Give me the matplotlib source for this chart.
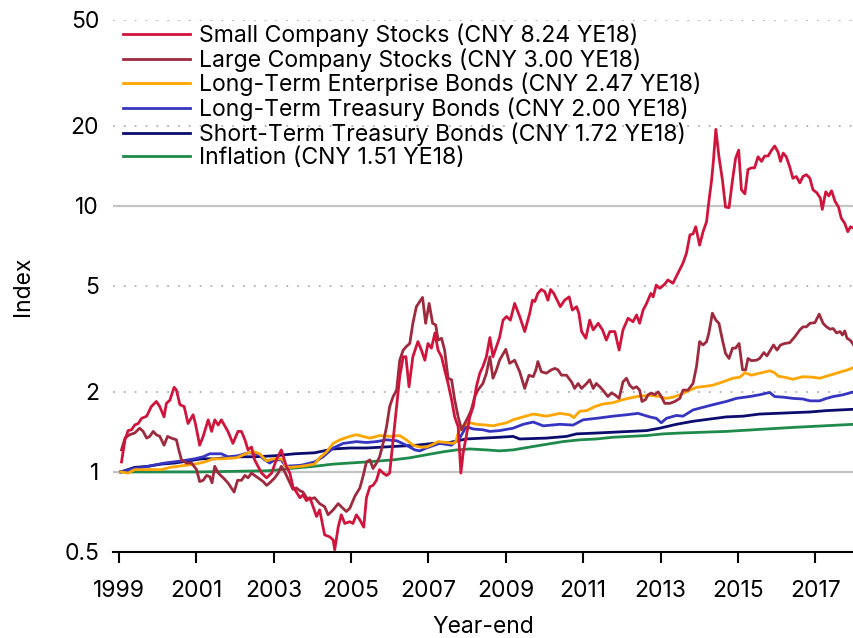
import matplotlib
matplotlib.use('Agg')
import matplotlib.pyplot as plt
from matplotlib.ticker import FixedLocator, NullLocator

plt.rcParams['font.family'] = ['Inter', 'DejaVu Sans']

# values (decimal year, index level)
small_x = [1999.07, 1999.16, 1999.24, 1999.33, 1999.41, 1999.50, 1999.59, 1999.72, 1999.84, 1999.97,
           2000.06, 2000.17, 2000.23, 2000.32, 2000.43, 2000.49, 2000.58, 2000.69, 2000.79, 2000.92,
           2000.98, 2001.09, 2001.18, 2001.31, 2001.40, 2001.48, 2001.57, 2001.65, 2001.82, 2001.95,
           2002.08, 2002.17, 2002.26, 2002.34, 2002.43, 2002.51, 2002.69, 2002.82, 2002.95, 2003.07,
           2003.20, 2003.33, 2003.42, 2003.50, 2003.59, 2003.68, 2003.76, 2003.85, 2003.94, 2004.05,
           2004.11, 2004.19, 2004.32, 2004.45, 2004.54, 2004.58, 2004.67, 2004.75, 2004.84, 2004.97,
           2005.05, 2005.14, 2005.23, 2005.33, 2005.40, 2005.49, 2005.57, 2005.66, 2005.74, 2005.83,
           2005.92, 2006.00, 2006.09, 2006.18, 2006.26, 2006.35, 2006.42, 2006.50, 2006.60, 2006.73,
           2006.82, 2006.91, 2006.99, 2007.08, 2007.17, 2007.25, 2007.34, 2007.42, 2007.51, 2007.60,
           2007.68, 2007.77, 2007.84, 2007.90, 2007.98, 2008.07, 2008.16, 2008.24, 2008.33, 2008.41,
           2008.50, 2008.59, 2008.67, 2008.76, 2008.84, 2008.93, 2009.02, 2009.12, 2009.23, 2009.36,
           2009.49, 2009.62, 2009.69, 2009.75, 2009.83, 2009.92, 2010.01, 2010.09, 2010.16, 2010.24,
           2010.33, 2010.41, 2010.52, 2010.64, 2010.72, 2010.83, 2010.89, 2010.96, 2011.07, 2011.17,
           2011.26, 2011.39, 2011.50, 2011.60, 2011.69, 2011.82, 2011.93, 2012.03, 2012.16, 2012.29,
           2012.38, 2012.46, 2012.55, 2012.64, 2012.75, 2012.81, 2012.89, 2012.98, 2013.11, 2013.19,
           2013.32, 2013.45, 2013.58, 2013.67, 2013.76, 2013.84, 2013.91, 2014.01, 2014.10, 2014.19,
           2014.25, 2014.32, 2014.36, 2014.43, 2014.51, 2014.60, 2014.68, 2014.77, 2014.86, 2014.94,
           2015.02, 2015.09, 2015.18, 2015.26, 2015.35, 2015.43, 2015.52, 2015.61, 2015.69, 2015.78,
           2015.87, 2015.95, 2016.04, 2016.10, 2016.17, 2016.25, 2016.34, 2016.42, 2016.51, 2016.60,
           2016.68, 2016.77, 2016.86, 2016.94, 2017.04, 2017.13, 2017.18, 2017.27, 2017.35, 2017.42,
           2017.51, 2017.60, 2017.67, 2017.76, 2017.84, 2017.91, 2017.99]
small_y = [1.09, 1.32, 1.43, 1.44, 1.50, 1.52, 1.59, 1.62, 1.76, 1.84,
           1.76, 1.61, 1.81, 1.86, 2.08, 2.03, 1.79, 1.76, 1.52, 1.64,
           1.52, 1.26, 1.36, 1.57, 1.42, 1.57, 1.50, 1.57, 1.42, 1.28,
           1.42, 1.42, 1.32, 1.21, 1.24, 1.11, 0.99, 0.95, 0.99, 1.11,
           1.21, 1.05, 0.99, 0.88, 0.84, 0.80, 0.82, 0.78, 0.80, 0.72,
           0.68, 0.72, 0.58, 0.57, 0.555, 0.51, 0.62, 0.69, 0.64, 0.65,
           0.64, 0.69, 0.66, 0.62, 0.80, 0.88, 0.89, 0.93, 1.02, 0.99,
           0.97, 0.99, 1.32, 1.76, 2.28, 2.71, 2.71, 2.09, 2.71, 3.09,
           2.87, 2.63, 3.04, 2.92, 3.33, 2.87, 2.71, 2.42, 2.15, 1.87,
           1.61, 1.48, 0.99, 1.18, 1.36, 1.61, 1.76, 2.09, 2.35, 2.49,
           2.71, 3.2, 2.71, 2.96, 3.2, 3.72, 3.84, 3.72, 4.30, 3.84,
           3.37, 3.95, 4.42, 4.37, 4.69, 4.85, 4.76, 4.42, 4.85, 4.69,
           4.42, 4.18, 4.42, 4.55, 4.06, 4.18, 3.95, 3.37, 3.18, 3.72,
           3.42, 3.62, 3.42, 3.13, 3.37, 3.37, 2.87, 3.42, 3.78, 3.67,
           3.89, 3.62, 4.06, 4.30, 4.69, 4.55, 5.04, 4.90, 5.08, 5.27,
           5.12, 5.58, 6.09, 6.64, 7.78, 7.85, 8.35, 7.12, 8.0, 8.73,
           10.4, 12.5, 14.4, 19.4, 15.3, 12.5, 9.9, 9.85, 12.5, 15.1,
           16.2, 11.5, 11.1, 13.7, 13.9, 13.9, 15.3, 14.7, 15.4, 15.4,
           16.2, 16.8, 15.9, 14.7, 15.8, 15.3, 14.0, 12.7, 12.9, 12.2,
           12.9, 13.1, 12.7, 11.5, 11.2, 10.7, 9.7, 11.3, 10.9, 11.4,
           10.4, 9.9, 9.0, 8.6, 8.0, 8.35, 8.24]

large_x = [1999.07, 1999.16, 1999.28, 1999.41, 1999.54, 1999.63, 1999.72, 1999.80, 1999.89, 1999.97,
           2000.06, 2000.17, 2000.26, 2000.36, 2000.49, 2000.55, 2000.62, 2000.75, 2000.88, 2001.01,
           2001.09, 2001.18, 2001.27, 2001.35, 2001.41, 2001.48, 2001.57, 2001.70, 2001.82, 2001.98,
           2002.07, 2002.17, 2002.26, 2002.34, 2002.43, 2002.51, 2002.60, 2002.73, 2002.82, 2002.90,
           2003.03, 2003.12, 2003.20, 2003.29, 2003.42, 2003.50, 2003.59, 2003.68, 2003.76, 2003.85,
           2003.94, 2004.06, 2004.19, 2004.32, 2004.41, 2004.54, 2004.67, 2004.75, 2004.88, 2004.97,
           2005.10, 2005.23, 2005.31, 2005.40, 2005.49, 2005.57, 2005.66, 2005.74, 2005.83, 2005.92,
           2006.00, 2006.09, 2006.18, 2006.26, 2006.35, 2006.43, 2006.52, 2006.60, 2006.69, 2006.78,
           2006.85, 2006.93, 2007.02, 2007.11, 2007.19, 2007.25, 2007.34, 2007.42, 2007.51, 2007.60,
           2007.68, 2007.77, 2007.86, 2007.94, 2008.03, 2008.11, 2008.20, 2008.28, 2008.41, 2008.50,
           2008.59, 2008.67, 2008.76, 2008.84, 2009.00, 2009.10, 2009.23, 2009.36, 2009.49, 2009.60,
           2009.71, 2009.78, 2009.83, 2009.92, 2010.05, 2010.18, 2010.27, 2010.35, 2010.44, 2010.57,
           2010.70, 2010.78, 2010.87, 2010.96, 2011.09, 2011.17, 2011.26, 2011.34, 2011.43, 2011.51,
           2011.64, 2011.73, 2011.82, 2011.93, 2012.03, 2012.12, 2012.20, 2012.29, 2012.38, 2012.46,
           2012.52, 2012.61, 2012.68, 2012.76, 2012.85, 2012.94, 2013.02, 2013.11, 2013.24, 2013.37,
           2013.50, 2013.58, 2013.71, 2013.84, 2013.93, 2014.01, 2014.10, 2014.19, 2014.25, 2014.34,
           2014.43, 2014.51, 2014.60, 2014.68, 2014.77, 2014.86, 2014.94, 2015.03, 2015.12, 2015.20,
           2015.26, 2015.35, 2015.48, 2015.56, 2015.67, 2015.75, 2015.84, 2015.92, 2016.01, 2016.10,
           2016.21, 2016.34, 2016.47, 2016.60, 2016.68, 2016.77, 2016.86, 2016.99, 2017.10, 2017.20,
           2017.29, 2017.38, 2017.46, 2017.55, 2017.64, 2017.70, 2017.76, 2017.82, 2017.91, 2017.99]
large_y = [1.21, 1.34, 1.38, 1.40, 1.46, 1.42, 1.34, 1.36, 1.42, 1.38,
           1.36, 1.26, 1.36, 1.34, 1.32, 1.21, 1.11, 1.08, 1.08, 1.02,
           0.92, 0.93, 0.97, 0.96, 0.91, 1.05, 0.99, 0.95, 0.91, 0.84,
           0.93, 0.93, 0.97, 0.95, 0.99, 0.97, 0.95, 0.92, 0.89, 0.91,
           0.95, 0.99, 1.05, 1.00, 0.91, 0.86, 0.87, 0.85, 0.84, 0.80,
           0.79, 0.80, 0.76, 0.74, 0.69, 0.72, 0.76, 0.74, 0.71, 0.73,
           0.81, 0.87, 0.96, 1.09, 1.11, 1.03, 1.08, 1.14, 1.28, 1.48,
           1.76, 1.92, 2.03, 2.63, 2.87, 2.96, 3.04, 3.62, 4.18, 4.37,
           4.53, 3.62, 4.30, 3.62, 3.57, 3.13, 3.18, 2.87, 2.25, 2.22,
           1.87, 1.61, 1.44, 1.52, 1.61, 1.71, 1.92, 2.03, 2.15, 2.35,
           2.71, 2.25, 2.42, 2.63, 2.89, 2.56, 2.63, 2.38, 2.06, 2.31,
           2.28, 2.42, 2.60, 2.38, 2.35, 2.42, 2.45, 2.42, 2.31, 2.31,
           2.18, 2.06, 2.15, 2.06, 2.15, 2.22, 2.06, 2.15, 2.09, 2.03,
           1.92, 1.98, 1.95, 1.89, 2.18, 2.25, 2.12, 2.06, 2.09, 2.03,
           1.84, 1.87, 1.95, 1.98, 1.95, 2.00, 1.92, 1.81, 1.81, 1.84,
           1.89, 2.03, 2.03, 2.15, 2.49, 3.09, 3.00, 3.09, 3.33, 3.95,
           3.72, 3.62, 3.13, 2.79, 2.67, 2.92, 2.92, 3.04, 2.42, 2.42,
           2.67, 2.62, 2.63, 2.67, 2.81, 2.73, 2.87, 3.00, 2.87, 3.00,
           3.04, 3.06, 3.22, 3.42, 3.51, 3.51, 3.62, 3.64, 3.92, 3.62,
           3.51, 3.44, 3.46, 3.33, 3.37, 3.27, 3.39, 3.18, 3.12, 3.00]

corp_x = [1999.05, 1999.24, 1999.41, 1999.76, 2000.10, 2000.32, 2000.75, 2000.96, 2001.22, 2001.44,
          2001.65, 2002.04, 2002.34, 2002.51, 2002.64, 2002.82, 2002.99, 2003.16, 2003.25, 2003.31,
          2003.42, 2003.72, 2004.06, 2004.19, 2004.37, 2004.54, 2004.71, 2004.97, 2005.14, 2005.31,
          2005.49, 2005.74, 2006.00, 2006.26, 2006.43, 2006.60, 2006.78, 2006.95, 2007.12, 2007.25,
          2007.47, 2007.64, 2007.71, 2007.77, 2007.86, 2008.07, 2008.24, 2008.50, 2008.67, 2008.84,
          2009.02, 2009.19, 2009.45, 2009.71, 2010.05, 2010.40, 2010.65, 2010.76, 2010.91, 2011.09,
          2011.30, 2011.51, 2011.77, 2012.03, 2012.38, 2012.72, 2012.98, 2013.15, 2013.32, 2013.50,
          2013.76, 2013.93, 2014.19, 2014.36, 2014.61, 2014.87, 2015.05, 2015.18, 2015.35, 2015.56,
          2015.82, 2015.95, 2016.04, 2016.21, 2016.42, 2016.68, 2016.94, 2017.11, 2017.29, 2017.46,
          2017.67, 2017.84, 2017.99]
corp_y = [1.00, 0.99, 1.02, 1.02, 1.02, 1.04, 1.06, 1.07, 1.09, 1.12,
          1.12, 1.13, 1.18, 1.19, 1.17, 1.10, 1.12, 1.12, 1.11, 1.05,
          1.04, 1.05, 1.07, 1.13, 1.19, 1.28, 1.32, 1.36, 1.38, 1.36,
          1.34, 1.37, 1.36, 1.37, 1.32, 1.26, 1.24, 1.24, 1.27, 1.30,
          1.29, 1.28, 1.30, 1.40, 1.48, 1.53, 1.51, 1.50, 1.49, 1.51,
          1.53, 1.57, 1.61, 1.65, 1.62, 1.66, 1.64, 1.60, 1.69, 1.70,
          1.76, 1.80, 1.82, 1.87, 1.92, 1.94, 1.92, 1.89, 1.91, 1.95,
          2.03, 2.08, 2.10, 2.12, 2.18, 2.25, 2.27, 2.36, 2.31, 2.35,
          2.40, 2.36, 2.29, 2.27, 2.23, 2.28, 2.27, 2.25, 2.29, 2.33,
          2.38, 2.42, 2.47]

ltgov_x = [1999.05, 1999.41, 1999.76, 2000.19, 2000.62, 2000.96, 2001.18, 2001.35, 2001.65, 2001.82,
           2002.08, 2002.34, 2002.60, 2002.77, 2002.90, 2003.03, 2003.20, 2003.31, 2003.72, 2004.06,
           2004.28, 2004.54, 2004.80, 2005.14, 2005.40, 2005.66, 2005.92, 2006.18, 2006.43, 2006.65,
           2006.78, 2006.95, 2007.29, 2007.60, 2007.81, 2007.98, 2008.16, 2008.41, 2008.59, 2008.84,
           2009.19, 2009.45, 2009.71, 2009.97, 2010.40, 2010.74, 2011.00, 2011.34, 2011.77, 2012.12,
           2012.42, 2012.72, 2012.89, 2013.02, 2013.15, 2013.41, 2013.58, 2013.84, 2014.10, 2014.36,
           2014.70, 2014.96, 2015.30, 2015.56, 2015.82, 2015.95, 2016.17, 2016.42, 2016.68, 2016.86,
           2017.11, 2017.29, 2017.46, 2017.72, 2017.99]
ltgov_y = [1.00, 1.03, 1.05, 1.08, 1.10, 1.12, 1.14, 1.17, 1.17, 1.14,
           1.15, 1.18, 1.17, 1.11, 1.08, 1.11, 1.11, 1.05, 1.06, 1.09,
           1.14, 1.23, 1.28, 1.30, 1.29, 1.30, 1.32, 1.31, 1.26, 1.21,
           1.20, 1.23, 1.28, 1.26, 1.34, 1.48, 1.45, 1.44, 1.42, 1.43,
           1.46, 1.51, 1.54, 1.49, 1.51, 1.50, 1.57, 1.59, 1.62, 1.64,
           1.66, 1.61, 1.59, 1.53, 1.59, 1.63, 1.62, 1.71, 1.75, 1.79,
           1.84, 1.89, 1.92, 1.95, 1.99, 1.92, 1.91, 1.89, 1.88, 1.85,
           1.85, 1.89, 1.92, 1.95, 2.00]

stgov_x = [1999.05, 1999.41, 1999.76, 2000.10, 2000.45, 2000.79, 2001.14, 2001.48, 2002.00, 2002.51,
           2003.03, 2003.55, 2004.06, 2004.54, 2004.97, 2005.40, 2005.83, 2006.26, 2006.69, 2007.12,
           2007.55, 2007.98, 2008.41, 2008.84, 2009.19, 2009.36, 2010.05, 2010.57, 2010.83, 2011.34,
           2011.77, 2012.20, 2012.64, 2012.98, 2013.41, 2013.84, 2014.27, 2014.70, 2015.13, 2015.56,
           2015.99, 2016.42, 2016.86, 2017.29, 2017.99]
stgov_y = [1.00, 1.04, 1.05, 1.07, 1.08, 1.10, 1.12, 1.12, 1.14, 1.14,
           1.15, 1.17, 1.18, 1.22, 1.23, 1.23, 1.24, 1.25, 1.26, 1.28,
           1.29, 1.33, 1.34, 1.35, 1.36, 1.33, 1.34, 1.36, 1.39, 1.40,
           1.41, 1.42, 1.43, 1.46, 1.51, 1.55, 1.58, 1.61, 1.62, 1.65,
           1.66, 1.67, 1.68, 1.70, 1.72]

infl_x = [1999.05, 2001.09, 2002.82, 2003.20, 2003.42, 2004.06, 2004.54, 2005.40, 2006.09, 2006.52,
          2006.95, 2007.38, 2007.73, 2008.07, 2008.50, 2008.84, 2009.19, 2009.62, 2010.05, 2010.48,
          2010.91, 2011.34, 2011.77, 2012.20, 2012.64, 2013.07, 2013.50, 2014.70, 2016.42, 2017.99]
infl_y = [1.00, 1.00, 1.01, 1.02, 1.03, 1.05, 1.07, 1.09, 1.11, 1.13,
          1.16, 1.19, 1.21, 1.22, 1.21, 1.20, 1.21, 1.24, 1.27, 1.30,
          1.32, 1.33, 1.35, 1.36, 1.37, 1.39, 1.40, 1.42, 1.47, 1.51]

labels = ['Small Company Stocks (CNY 8.24 YE18)',
          'Large Company Stocks (CNY 3.00 YE18)',
          'Long-Term Enterprise Bonds (CNY 2.47 YE18)',
          'Long-Term Treasury Bonds (CNY 2.00 YE18)',
          'Short-Term Treasury Bonds (CNY 1.72 YE18)',
          'Inflation (CNY 1.51 YE18)']
colors = ['#d0143c', '#9e2a3e', '#ffa500', '#3535c2', '#0c0c6e', '#1f8a4c']

year_ticks = [1999, 2001, 2003, 2005, 2007, 2009, 2011, 2013, 2015, 2017]
y_ticks = [0.5, 1, 2, 5, 10, 20, 50]
y_tick_labels = ['0.5', '1', '2', '5', '10', '20', '50']

fig = plt.figure(figsize=(8.54, 6.38), dpi=100)
ax = fig.add_axes([0.1323, 0.1348, 0.8677, 0.8339])
ax.set_yscale('log')

# gridlines: solid at 1 and 10, dotted elsewhere
for v in y_ticks[1:]:
    if v in (1, 10):
        ax.axhline(v, color='#c4c4c4', lw=1.6, zorder=0)
    else:
        ax.axhline(v, color='#b0b0b0', lw=1.3, ls=(0, (1, 5)), zorder=0)

series = [(small_x, small_y), (large_x, large_y), (corp_x, corp_y),
          (ltgov_x, ltgov_y), (stgov_x, stgov_y), (infl_x, infl_y)]
# draw bottom-most first so the stocks sit on top
lines = {}
for i in [5, 4, 3, 2, 1, 0]:
    x, y = series[i]
    ln, = ax.plot(x, y, color=colors[i], lw=2.0, label=labels[i], zorder=2 + (5 - i))
    lines[i] = ln

ax.set_xlim(1998.85, 2018.0)
ax.set_ylim(0.5, 50)
ax.yaxis.set_major_locator(FixedLocator(y_ticks))
ax.yaxis.set_minor_locator(NullLocator())
ax.set_yticklabels(y_tick_labels)
ax.set_xticks(year_ticks)
ax.set_xticklabels([str(t) for t in year_ticks])

for s in ['top', 'right', 'left']:
    ax.spines[s].set_visible(False)
ax.spines['bottom'].set_linewidth(1.5)
ax.spines['bottom'].set_color('black')
ax.tick_params(axis='y', length=0, pad=10, labelsize=16.5)
ax.tick_params(axis='x', direction='out', length=8, width=1.5, pad=12, labelsize=16.5)

ax.set_xlabel('Year-end', fontsize=16.5, labelpad=10)
ax.set_ylabel('Index', fontsize=16.5, labelpad=22)

leg = ax.legend([lines[i] for i in range(6)], labels, loc='upper left',
                bbox_to_anchor=(0.0135, 0.993), frameon=False, fontsize=16.6,
                handlelength=2.9, handletextpad=0.39, labelspacing=0.05,
                borderpad=0.0, borderaxespad=0.0)

fig.savefig('out.png', dpi=100)
